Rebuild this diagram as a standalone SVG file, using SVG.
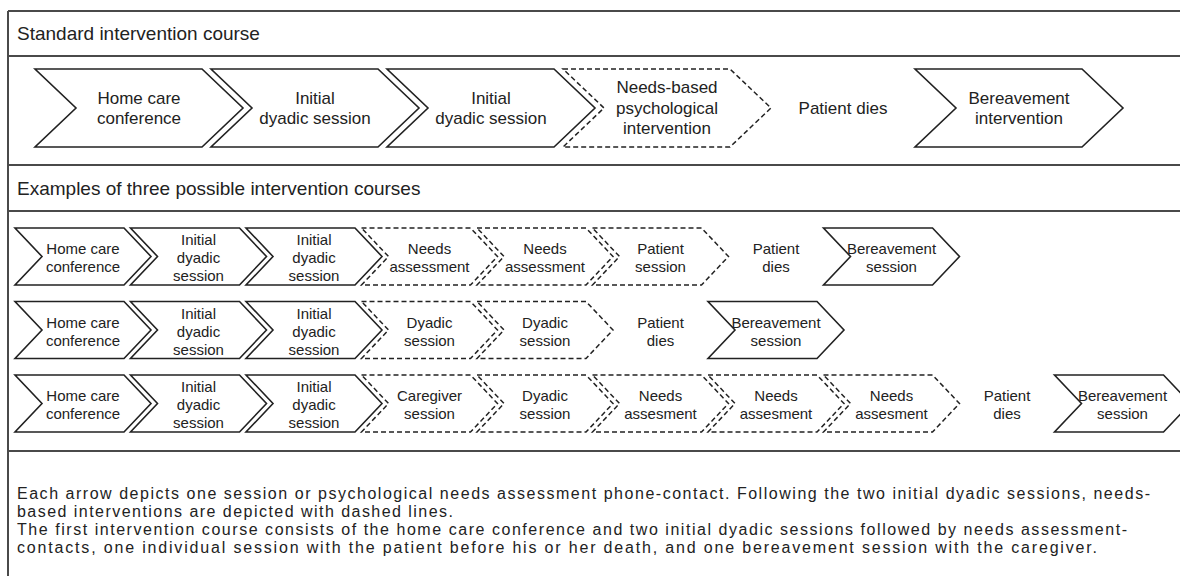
<svg xmlns="http://www.w3.org/2000/svg" width="1180" height="576" viewBox="0 0 1180 576">
<style>
.frame{stroke:#4a4a4a;stroke-width:2;fill:none}
.sol{fill:#fff;stroke:#222;stroke-width:1.6;stroke-linejoin:miter}
.dash{fill:#fff;stroke:#222;stroke-width:1.5;stroke-dasharray:5 3}
text{font-family:"Liberation Sans",Arial,sans-serif;fill:#222}
.h{font-size:19px}
.L{font-size:17px;text-anchor:middle}
.S{font-size:15px;text-anchor:middle}
.p{font-size:16px}
</style>
<rect width="1180" height="576" fill="#fff"/>
<g id="frame">
<path class="frame" d="M8,11 V576 M8,11 H1180 M8,56 H1180 M8,165 H1180 M8,211 H1180 M8,451 H1180"/>
</g>
<text class="h" x="17" y="40">Standard intervention course</text>
<text class="h" x="17" y="195">Examples of three possible intervention courses</text>

<g id="std">
<g id="s1"><path class="sol" d="M35,69 H202 L243,108 L202,147 H35 L76,108 Z"/><text class="L" x="139" y="104">Home care</text><text class="L" x="139" y="124">conference</text></g>
<g id="s2"><path class="sol" d="M211,69 H378 L419,108 L378,147 H211 L252,108 Z"/><text class="L" x="315" y="104">Initial</text><text class="L" x="315" y="124">dyadic session</text></g>
<g id="s3"><path class="sol" d="M387,69 H554 L595,108 L554,147 H387 L428,108 Z"/><text class="L" x="491" y="104">Initial</text><text class="L" x="491" y="124">dyadic session</text></g>
<g id="s4"><path class="dash" d="M563,69 H730 L771,108 L730,147 H563 L604,108 Z"/><text class="L" x="667" y="93">Needs-based</text><text class="L" x="667" y="113.5">psychological</text><text class="L" x="667" y="134">intervention</text></g>
<g id="s5"><text class="L" x="843" y="114">Patient dies</text></g>
<g id="s6"><path class="sol" d="M915,69 H1082 L1123,108 L1082,147 H915 L956,108 Z"/><text class="L" x="1019" y="104">Bereavement</text><text class="L" x="1019" y="124">intervention</text></g>
</g>

<g id="row1">
<g id="r1c1"><path class="sol" transform="translate(15,228)" d="M0,0 H109 L136,28.5 L109,57 H0 L27,28.5 Z"/><text class="S" x="83" y="254">Home care</text><text class="S" x="83" y="272">conference</text></g>
<g id="r1c2"><path class="sol" transform="translate(130.5,228)" d="M0,0 H109 L136,28.5 L109,57 H0 L27,28.5 Z"/><text class="S" x="198.5" y="245">Initial</text><text class="S" x="198.5" y="263">dyadic</text><text class="S" x="198.5" y="281">session</text></g>
<g id="r1c3"><path class="sol" transform="translate(246,228)" d="M0,0 H109 L136,28.5 L109,57 H0 L27,28.5 Z"/><text class="S" x="314" y="245">Initial</text><text class="S" x="314" y="263">dyadic</text><text class="S" x="314" y="281">session</text></g>
<g id="r1c4"><path class="dash" transform="translate(361.5,228)" d="M0,0 H109 L136,28.5 L109,57 H0 L27,28.5 Z"/><text class="S" x="429.5" y="254">Needs</text><text class="S" x="429.5" y="272">assessment</text></g>
<g id="r1c5"><path class="dash" transform="translate(477,228)" d="M0,0 H109 L136,28.5 L109,57 H0 L27,28.5 Z"/><text class="S" x="545" y="254">Needs</text><text class="S" x="545" y="272">assessment</text></g>
<g id="r1c6"><path class="dash" transform="translate(592.5,228)" d="M0,0 H109 L136,28.5 L109,57 H0 L27,28.5 Z"/><text class="S" x="660.5" y="254">Patient</text><text class="S" x="660.5" y="272">session</text></g>
<g id="r1c7"><text class="S" x="776" y="254">Patient</text><text class="S" x="776" y="272">dies</text></g>
<g id="r1c8"><path class="sol" transform="translate(823.5,228)" d="M0,0 H109 L136,28.5 L109,57 H0 L27,28.5 Z"/><text class="S" x="891.5" y="254">Bereavement</text><text class="S" x="891.5" y="272">session</text></g>
</g>

<g id="row2">
<g id="r2c1"><path class="sol" transform="translate(15,301.5)" d="M0,0 H109 L136,28.5 L109,57 H0 L27,28.5 Z"/><text class="S" x="83" y="327.5">Home care</text><text class="S" x="83" y="345.5">conference</text></g>
<g id="r2c2"><path class="sol" transform="translate(130.5,301.5)" d="M0,0 H109 L136,28.5 L109,57 H0 L27,28.5 Z"/><text class="S" x="198.5" y="318.5">Initial</text><text class="S" x="198.5" y="336.5">dyadic</text><text class="S" x="198.5" y="354.5">session</text></g>
<g id="r2c3"><path class="sol" transform="translate(246,301.5)" d="M0,0 H109 L136,28.5 L109,57 H0 L27,28.5 Z"/><text class="S" x="314" y="318.5">Initial</text><text class="S" x="314" y="336.5">dyadic</text><text class="S" x="314" y="354.5">session</text></g>
<g id="r2c4"><path class="dash" transform="translate(361.5,301.5)" d="M0,0 H109 L136,28.5 L109,57 H0 L27,28.5 Z"/><text class="S" x="429.5" y="327.5">Dyadic</text><text class="S" x="429.5" y="345.5">session</text></g>
<g id="r2c5"><path class="dash" transform="translate(477,301.5)" d="M0,0 H109 L136,28.5 L109,57 H0 L27,28.5 Z"/><text class="S" x="545" y="327.5">Dyadic</text><text class="S" x="545" y="345.5">session</text></g>
<g id="r2c6"><text class="S" x="660.5" y="327.5">Patient</text><text class="S" x="660.5" y="345.5">dies</text></g>
<g id="r2c7"><path class="sol" transform="translate(708,301.5)" d="M0,0 H109 L136,28.5 L109,57 H0 L27,28.5 Z"/><text class="S" x="776" y="327.5">Bereavement</text><text class="S" x="776" y="345.5">session</text></g>
</g>

<g id="row3">
<g id="r3c1"><path class="sol" transform="translate(15,375)" d="M0,0 H109 L136,28.5 L109,57 H0 L27,28.5 Z"/><text class="S" x="83" y="401">Home care</text><text class="S" x="83" y="419">conference</text></g>
<g id="r3c2"><path class="sol" transform="translate(130.5,375)" d="M0,0 H109 L136,28.5 L109,57 H0 L27,28.5 Z"/><text class="S" x="198.5" y="392">Initial</text><text class="S" x="198.5" y="410">dyadic</text><text class="S" x="198.5" y="428">session</text></g>
<g id="r3c3"><path class="sol" transform="translate(246,375)" d="M0,0 H109 L136,28.5 L109,57 H0 L27,28.5 Z"/><text class="S" x="314" y="392">Initial</text><text class="S" x="314" y="410">dyadic</text><text class="S" x="314" y="428">session</text></g>
<g id="r3c4"><path class="dash" transform="translate(361.5,375)" d="M0,0 H109 L136,28.5 L109,57 H0 L27,28.5 Z"/><text class="S" x="429.5" y="401">Caregiver</text><text class="S" x="429.5" y="419">session</text></g>
<g id="r3c5"><path class="dash" transform="translate(477,375)" d="M0,0 H109 L136,28.5 L109,57 H0 L27,28.5 Z"/><text class="S" x="545" y="401">Dyadic</text><text class="S" x="545" y="419">session</text></g>
<g id="r3c6"><path class="dash" transform="translate(592.5,375)" d="M0,0 H109 L136,28.5 L109,57 H0 L27,28.5 Z"/><text class="S" x="660.5" y="401">Needs</text><text class="S" x="660.5" y="419">assesment</text></g>
<g id="r3c7"><path class="dash" transform="translate(708,375)" d="M0,0 H109 L136,28.5 L109,57 H0 L27,28.5 Z"/><text class="S" x="776" y="401">Needs</text><text class="S" x="776" y="419">assesment</text></g>
<g id="r3c8"><path class="dash" transform="translate(823.5,375)" d="M0,0 H109 L136,28.5 L109,57 H0 L27,28.5 Z"/><text class="S" x="891.5" y="401">Needs</text><text class="S" x="891.5" y="419">assesment</text></g>
<g id="r3c9"><text class="S" x="1007" y="401">Patient</text><text class="S" x="1007" y="419">dies</text></g>
<g id="r3c10"><path class="sol" transform="translate(1054.5,375)" d="M0,0 H109 L136,28.5 L109,57 H0 L27,28.5 Z"/><text class="S" x="1122.5" y="401">Bereavement</text><text class="S" x="1122.5" y="419">session</text></g>
</g>

<g id="caption">
<text class="p" x="17" y="498.5" textLength="1133" lengthAdjust="spacing">Each arrow depicts one session or psychological needs assessment phone-contact. Following the two initial dyadic sessions, needs-</text>
<text class="p" x="17" y="516.8" textLength="436" lengthAdjust="spacing">based interventions are depicted with dashed lines.</text>
<text class="p" x="17" y="535.1" textLength="1110" lengthAdjust="spacing">The first intervention course consists of the home care conference and two initial dyadic sessions followed by needs assessment-</text>
<text class="p" x="17" y="553.4" textLength="1080" lengthAdjust="spacing">contacts, one individual session with the patient before his or her death, and one bereavement session with the caregiver.</text>
</g>
</svg>
